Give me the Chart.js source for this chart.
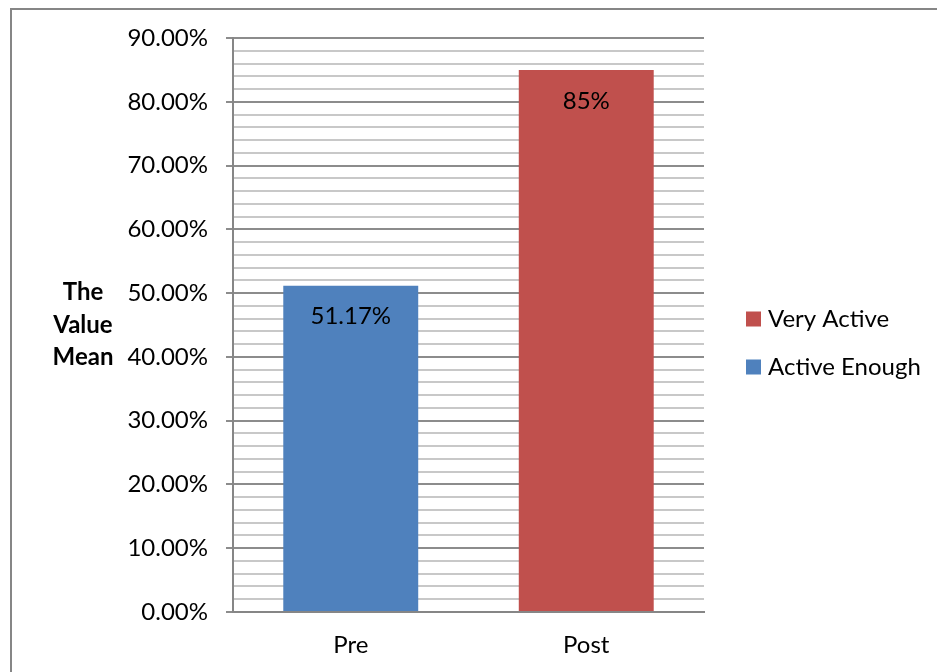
<!DOCTYPE html>
<html>
<head>
<meta charset="utf-8">
<script src="https://cdn.jsdelivr.net/npm/chart.js@4/dist/chart.umd.min.js"></script>
<style>
    body { margin: 0; background: #fff; }
    #frame {
        position: absolute;
        left: 10px;
        top: 8px;
        width: 927px;
        height: 664px;
        border-left: 2px solid #868686;
        border-top: 2px solid #868686;
    }
</style>
</head>
<body>
<div id="frame"><canvas id="chart" width="925" height="662"></canvas></div>
<script>
const categories = ['Pre', 'Post'];
const seriesNames = ['Very Active', 'Active Enough'];
const veryActive = [null, 85];
const activeEnough = [51.17, null];
const valueLabels = ['51.17%', '85%'];
const axisTitle = ['The', 'Value', 'Mean'];

const FONT = 'Lato, "Open Sans", sans-serif';
const colors = { 'Very Active': '#c0504d', 'Active Enough': '#4f81bd' };

const barLabels = {
    id: 'barLabels',
    afterDatasetsDraw(chart) {
        const ctx = chart.ctx;
        ctx.save();
        ctx.font = '24px ' + FONT;
        ctx.fillStyle = '#000';
        ctx.textAlign = 'center';
        ctx.textBaseline = 'middle';
        chart.data.datasets.forEach((ds, i) => {
            chart.getDatasetMeta(i).data.forEach((bar, j) => {
                if (ds.data[j] == null) return;
                ctx.fillText(valueLabels[j], bar.x, bar.y + 31);
            });
        });
        ctx.restore();
    }
};

const sideText = {
    id: 'sideText',
    afterDraw(chart) {
        const ctx = chart.ctx;
        const area = chart.chartArea;
        const mid = (area.top + area.bottom) / 2;
        ctx.save();
        // axis title
        ctx.font = 'bold 24px ' + FONT;
        ctx.fillStyle = '#000';
        ctx.textAlign = 'center';
        ctx.textBaseline = 'middle';
        axisTitle.forEach((t, i) => {
            ctx.fillText(t, area.left - 150, mid + (i - 1) * 32.5);
        });
        // legend
        ctx.font = '24px ' + FONT;
        ctx.textAlign = 'left';
        seriesNames.forEach((name, i) => {
            const y = mid - 6 + i * 48;
            ctx.fillStyle = colors[name];
            ctx.fillRect(area.right + 42, y - 7.5, 15, 15);
            ctx.fillStyle = '#000';
            ctx.fillText(name, area.right + 64, y);
        });
        ctx.restore();
    }
};

new Chart(document.getElementById('chart'), {
    type: 'bar',
    data: {
        labels: categories,
        datasets: [
            { label: seriesNames[0], data: veryActive, backgroundColor: colors['Very Active'] },
            { label: seriesNames[1], data: activeEnough, backgroundColor: colors['Active Enough'] }
        ]
    },
    options: {
        responsive: false,
        animation: false,
        layout: { padding: { left: 100, top: 28, right: 233, bottom: 0 } },
        datasets: { bar: { categoryPercentage: 1, barPercentage: 0.573 } },
        plugins: {
            legend: { display: false },
            tooltip: { enabled: false }
        },
        scales: {
            x: {
                stacked: true,
                grid: { display: false, drawTicks: false },
                border: { display: true, color: '#868686', width: 2 },
                ticks: { color: '#000', font: { family: FONT, size: 24 }, padding: 19 },
                afterFit(scale) { scale.height = 60; }
            },
            y: {
                stacked: true,
                min: 0,
                max: 90,
                grid: {
                    color: c => c.tick && c.tick.value % 10 === 0 ? '#8c8c8c' : '#c8c8c8',
                    tickColor: c => c.tick && c.tick.value % 10 === 0 ? '#8c8c8c' : 'rgba(0,0,0,0)',
                    lineWidth: 2,
                    tickLength: 7
                },
                border: { display: true, color: '#868686', width: 2 },
                ticks: {
                    stepSize: 2,
                    maxTicksLimit: 100,
                    autoSkip: false,
                    padding: 18,
                    color: '#000',
                    font: { family: FONT, size: 24 },
                    callback: v => v % 10 === 0 ? v.toFixed(2) + '%' : ''
                },
                afterFit(scale) {
                    scale.width = 121;
                    scale.paddingTop = 0;
                    scale.paddingBottom = 0;
                }
            }
        }
    },
    plugins: [barLabels, sideText]
});
</script>
</body>
</html>
